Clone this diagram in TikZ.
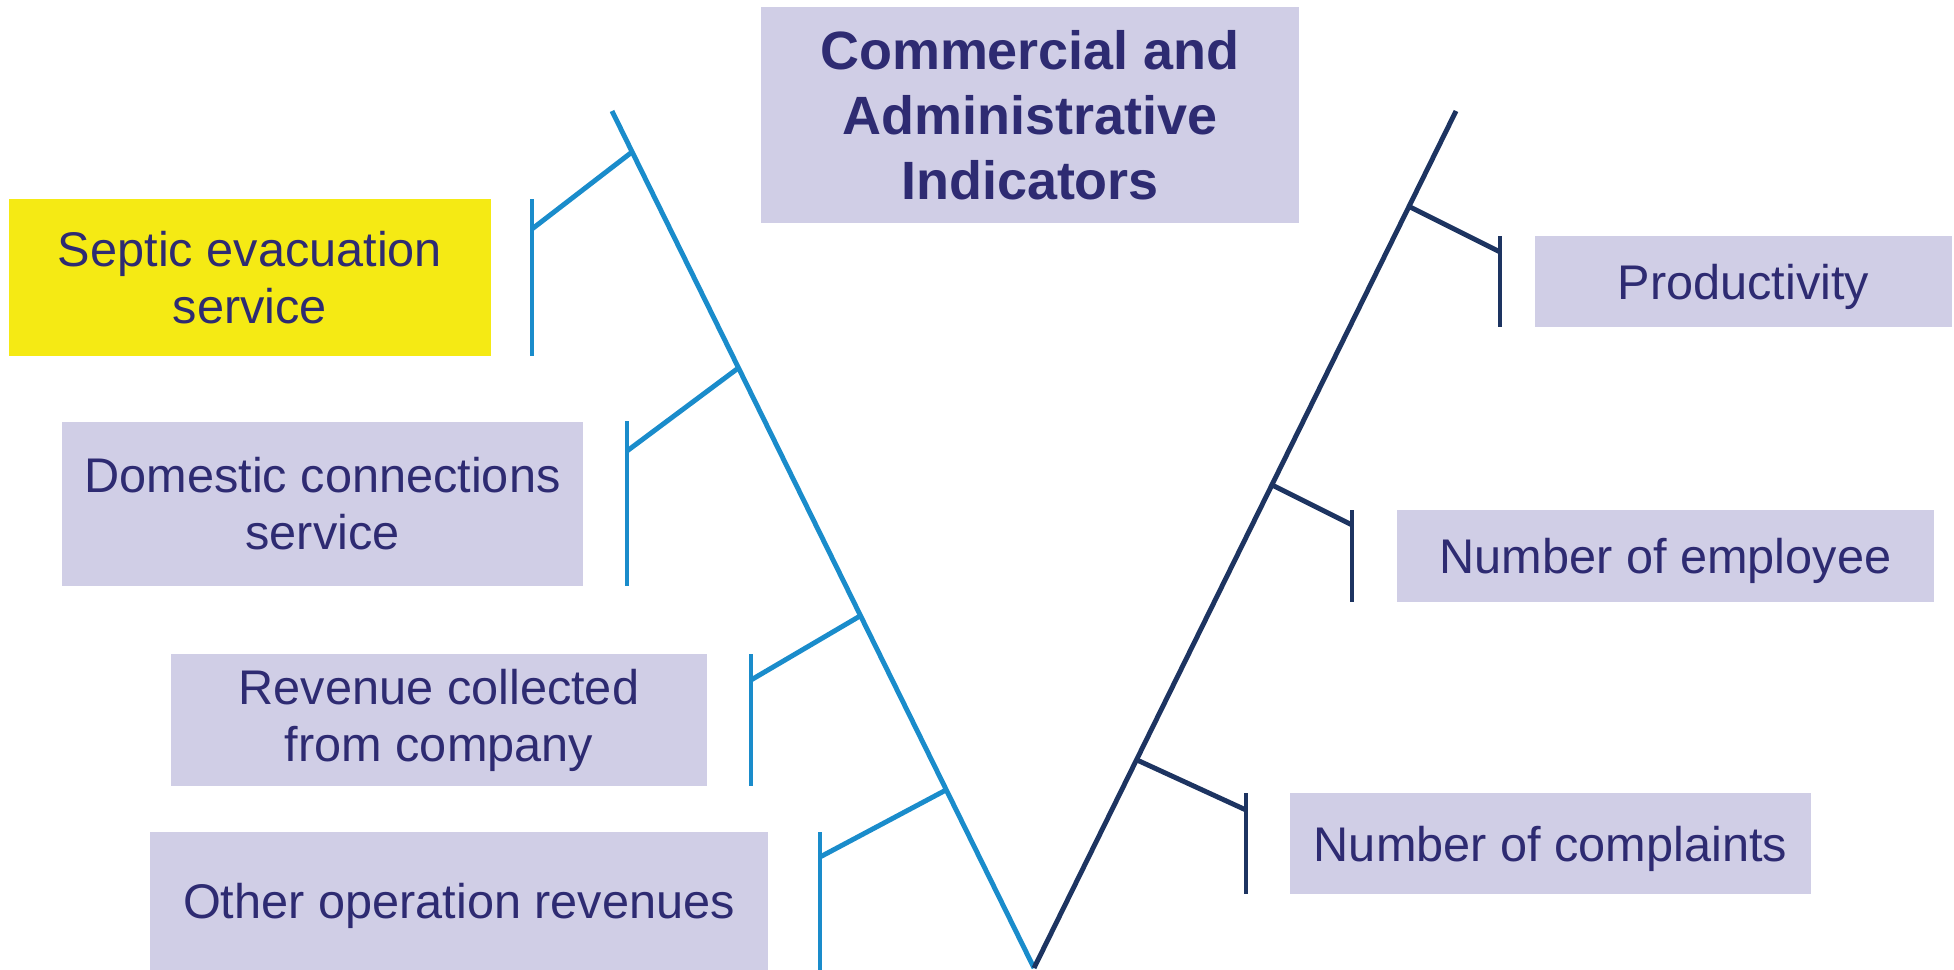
\documentclass[tikz,border=0pt]{standalone}
\usepackage{fontspec}
\setmainfont{Liberation Sans}
\definecolor{boxfill}{HTML}{D0CEE6}
\definecolor{boxtext}{HTML}{2E2B72}
\definecolor{septicfill}{HTML}{F5EA14}
\definecolor{leftbone}{HTML}{1A8CCB}
\definecolor{rightbone}{HTML}{1D3461}

\begin{document}
\begin{tikzpicture}[
        x=0.02cm, y=-0.02cm,
        base/.style={fill=boxfill, text=boxtext, align=center, inner sep=0pt, font=\fontsize{27.7}{32.5}\selectfont},
        cause/.style={base},
        oneline/.style={base, text depth=0pt},
        hilite/.style={base, fill=septicfill},
        head/.style={base, font=\fontsize{30.7}{37}\selectfont\bfseries},
        lbone/.style={line width=2.8pt, draw=leftbone},
        rbone/.style={line width=2.8pt, draw=rightbone}
    ]
        \useasboundingbox (0,0) rectangle (1954,970);

        \node[head, minimum width=10.76cm, minimum height=4.32cm] (title) at (1030,115) {Commercial and\\ Administrative\\ Indicators};

        \node[hilite, minimum width=9.64cm, minimum height=3.14cm] (septic) at (250,277.5) {Septic evacuation\\ service};
        \node[cause, minimum width=10.42cm, minimum height=3.28cm] (domestic) at (322.5,504) {Domestic connections\\ service};
        \node[cause, minimum width=10.72cm, minimum height=2.64cm] (revenue) at (439,720) {Revenue collected\\ from company};
        \node[oneline, minimum width=12.36cm, minimum height=2.76cm] (other) at (459,901) {Other operation revenues};

        \node[oneline, minimum width=8.34cm, minimum height=1.82cm] (prod) at (1743.5,281.5) {Productivity};
        \node[oneline, minimum width=10.74cm, minimum height=1.84cm] (staff) at (1665.5,556) {Number of employee};
        \node[oneline, minimum width=10.42cm, minimum height=2.02cm] (complaints) at (1550.5,843.5) {Number of complaints};

        % the V
        \coordinate (ltop) at (612,111);
        \coordinate (rtop) at (1456,111);
        \coordinate (vbot) at (1034,968);
        \draw[lbone] (ltop) -- (vbot);
        \draw[rbone] (rtop) -- (vbot);

        % left branches
        \coordinate (s-top) at (532,199);  \coordinate (s-bot) at (532,356);
        \coordinate (s-joint) at (532,229); \coordinate (s-tip) at (632,152);
        \coordinate (d-top) at (627,421);  \coordinate (d-bot) at (627,586);
        \coordinate (d-joint) at (627,451); \coordinate (d-tip) at (737,369);
        \coordinate (r-top) at (751,654);  \coordinate (r-bot) at (751,786);
        \coordinate (r-joint) at (751,680); \coordinate (r-tip) at (860,616);
        \coordinate (o-top) at (820,832);  \coordinate (o-bot) at (820,970);
        \coordinate (o-joint) at (820,857); \coordinate (o-tip) at (946,790);
        \foreach \b in {s,d,r,o}{
            \draw[lbone] (\b-top) -- (\b-bot);
            \draw[lbone] (\b-joint) -- (\b-tip);
        }

        % right branches
        \coordinate (p-top) at (1500,236);  \coordinate (p-bot) at (1500,327);
        \coordinate (p-joint) at (1500,252); \coordinate (p-tip) at (1410,207);
        \coordinate (e-top) at (1352,510);  \coordinate (e-bot) at (1352,602);
        \coordinate (e-joint) at (1352,525); \coordinate (e-tip) at (1272,485);
        \coordinate (c-top) at (1246,793);  \coordinate (c-bot) at (1246,894);
        \coordinate (c-joint) at (1246,810); \coordinate (c-tip) at (1137,760);
        \foreach \b in {p,e,c}{
            \draw[rbone] (\b-top) -- (\b-bot);
            \draw[rbone] (\b-joint) -- (\b-tip);
        }
    \end{tikzpicture}
\end{document}
